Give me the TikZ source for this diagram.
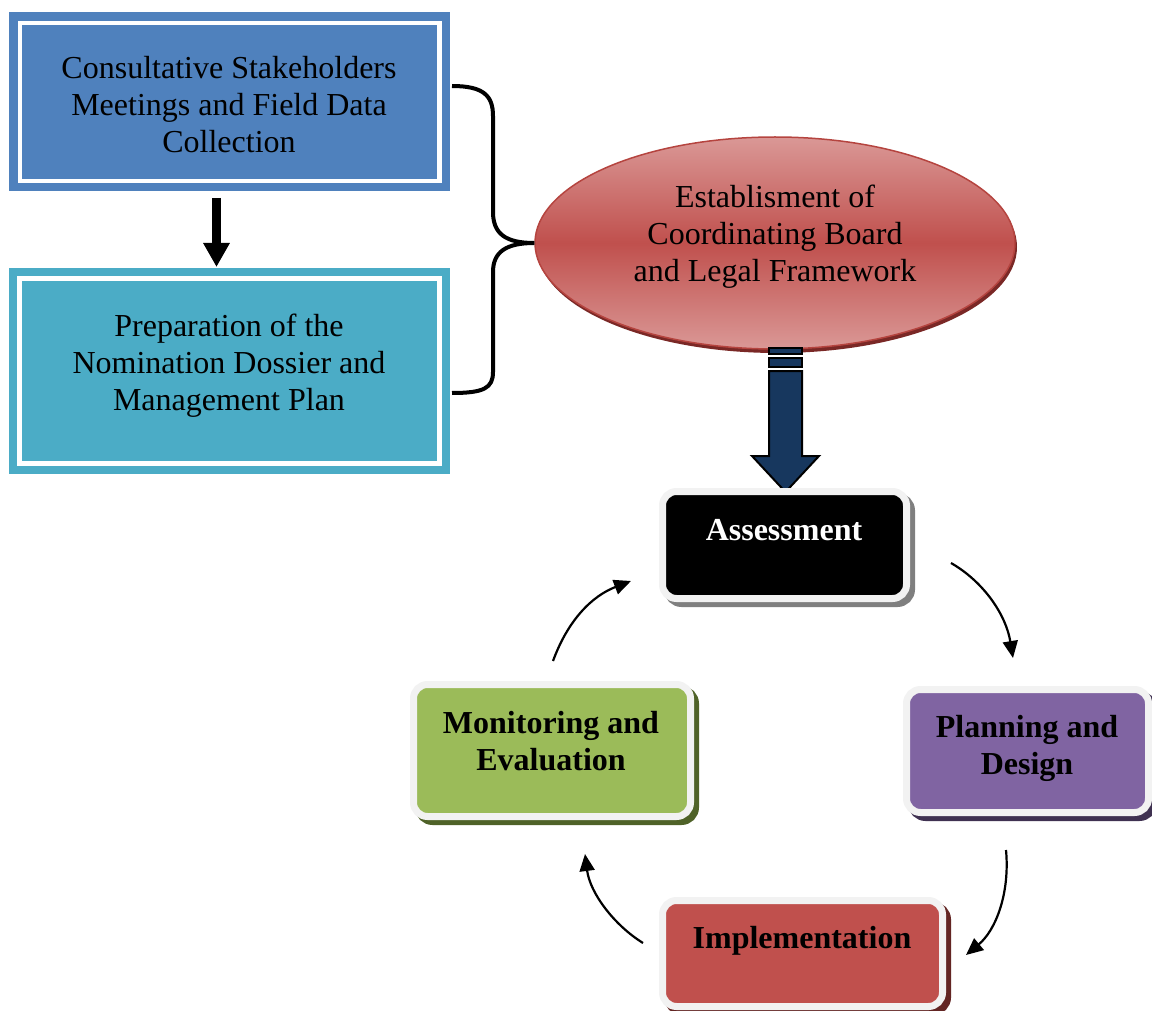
\documentclass[tikz,border=0pt]{standalone}
\usepackage{fontspec}
\setmainfont{Liberation Serif}
\usetikzlibrary{arrows.meta,shapes.geometric,calc}
\definecolor{boxblue}{HTML}{4F81BD}
\definecolor{boxteal}{HTML}{4BACC6}
\definecolor{ellred}{HTML}{C0504D}
\definecolor{ellpink}{HTML}{DA9896}
\definecolor{ellborder}{HTML}{B5443F}
\definecolor{ellshadow}{HTML}{7A2826}
\definecolor{navy}{HTML}{17375E}
\definecolor{framegray}{HTML}{F2F2F2}
\definecolor{cycred}{HTML}{C0504D}
\definecolor{cycpurple}{HTML}{8064A2}
\definecolor{cycgreen}{HTML}{9BBB59}
\definecolor{shgray}{HTML}{7F7F7F}
\definecolor{shpurple}{HTML}{3F3151}
\definecolor{shgreen}{HTML}{4F6228}
\definecolor{shred}{HTML}{632523}
\begin{document}
\begin{tikzpicture}[x=1pt,y=-1pt,
  regtxt/.style={font=\fontsize{32}{37}\selectfont, align=center, inner sep=0pt},
  boldtxt/.style={font=\fontsize{32}{37}\selectfont\bfseries, align=center, inner sep=0pt},
  topbox/.style={rectangle, fill=#1, draw=white, line width=4.5pt, inner sep=0pt, outer sep=0pt,
     preaction={draw=#1, line width=21pt}},
  cycbox/.style 2 args={rectangle, rounded corners=14pt, fill=#1, draw=framegray, line width=7pt,
     inner sep=0pt, outer sep=0pt,
     preaction={draw=#2, fill=#2, line width=7pt, transform canvas={shift={(5pt,-5pt)}}}},
  navyarrow/.style={fill=navy, draw=black, line width=2pt, line join=miter},
  cycarr/.style={line width=2.2pt, -{Triangle[length=17pt,width=15pt]}},
  brace/.style={line width=4pt, line join=round}
]
\useasboundingbox (0,0) rectangle (1152,1011);

% top boxes
\node[topbox=boxblue, minimum width=419.5pt, minimum height=158.2pt] (box1) at (229.5,101.9) {};
\node[regtxt] (box1t) at (229,105) {Consultative Stakeholders\\Meetings and Field Data\\Collection};
\node[topbox=boxteal, minimum width=420pt, minimum height=185pt] (box2) at (229.5,371) {};
\node[regtxt] (box2t) at (229,365.5) {Preparation of the\\Nomination Dossier and\\Management Plan};

% small arrow
\draw[line width=9pt, -{Triangle[length=24pt,width=25pt]}]
  ([xshift=-13pt,yshift=-17pt]box1.south) -- ([xshift=-13pt,yshift=11.5pt]box2.north);

% ellipse
\node[ellipse, minimum width=480pt, minimum height=212pt,
  top color=ellpink, bottom color=ellpink, middle color=ellred,
  draw=ellborder, line width=1.5pt,
  preaction={fill=ellshadow, transform canvas={shift={(2pt,-4pt)}}}] (ell) at (775,243) {};
\node[regtxt] (ellt) at (775,236.5) {Establisment of\\Coordinating Board\\and Legal Framework};

% brace
\coordinate (brtop) at (452,86);
\coordinate (brbot) at (452,393);
\draw[brace] (brtop) .. controls (484,86) and (493,96) .. (493,116) -- (493,212)
  .. controls (493,234) and (506,243) .. (ell.west);
\draw[brace] (ell.west) .. controls (506,243) and (493,252) .. (493,272) -- (493,372)
  .. controls (493,388) and (484,393) .. (brbot);

% big navy arrow
\filldraw[navyarrow] (769,348) rectangle (802,354);
\filldraw[navyarrow] (769,358) rectangle (802,367);
\filldraw[navyarrow] (769,371) -- (802,371) -- (802,456) -- (819,456) -- (785.5,492)
  -- (752,456) -- (769,456) -- cycle;

% cycle boxes
\node[cycbox={black}{shgray}, minimum width=244pt, minimum height=107pt] (assess) at (784.5,545) {};
\node[boldtxt, text=white] (assesst) at (784,530.5) {Assessment};

\node[cycbox={cycpurple}{shpurple}, minimum width=242pt, minimum height=123pt] (plan) at (1027.5,751) {};
\node[boldtxt] (plant) at (1027,748) {Planning and\\Design};

\node[cycbox={cycred}{shred}, minimum width=280pt, minimum height=106pt] (impl) at (802.5,953.5) {};
\node[boldtxt] (implt) at (802,941) {Implementation};

\node[cycbox={cycgreen}{shgreen}, minimum width=277pt, minimum height=132pt] (mon) at (552,750.5) {};
\node[boldtxt] (mont) at (551,741.5) {Monitoring and\\Evaluation};

% cycle arrows
\coordinate (a1s) at (553,661);
\coordinate (a1e) at (631,581);
\coordinate (a2s) at (951,563);
\coordinate (a2e) at (1013,658);
\coordinate (a3s) at (1006,850);
\coordinate (a3e) at (966,955);
\coordinate (a4s) at (643,943);
\coordinate (a4e) at (585,854);
\draw[cycarr] (a1s) .. controls (568,620) and (592,596) .. (a1e);
\draw[cycarr] (a2s) .. controls (984,582) and (1006,615) .. (a2e);
\draw[cycarr] (a3s) .. controls (1010,893) and (996,930) .. (a3e);
\draw[cycarr] (a4s) .. controls (614,925) and (590,893) .. (a4e);
\end{tikzpicture}
\end{document}
